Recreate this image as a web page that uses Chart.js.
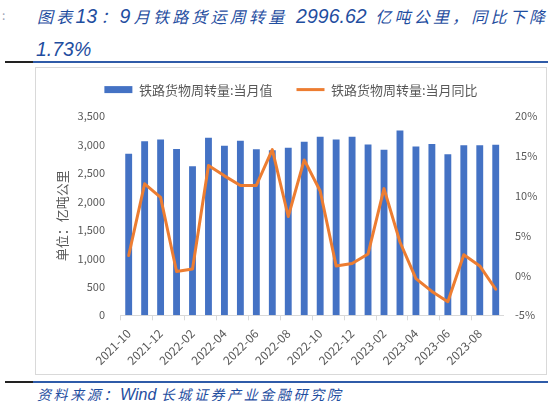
<!DOCTYPE html>
<html><head><meta charset="utf-8">
<script src="https://cdn.jsdelivr.net/npm/chart.js@4.4.1/dist/chart.umd.min.js"></script>
<style>
html,body{margin:0;padding:0;background:#fff;}
body{width:554px;height:407px;position:relative;overflow:hidden;font-family:'Noto Sans CJK SC','Noto Sans',sans-serif;}
.t{position:absolute;color:#1f4e9f;font-style:italic;}
.cn{font-family:'Noto Sans CJK SC',sans-serif;font-size:16px;}
.la{font-family:'Liberation Sans',Arial,sans-serif;font-size:19.5px;}
#t1{left:37px;top:5px;width:508px;height:22px;line-height:22px;text-align:justify;text-align-last:justify;}
#t2{left:36px;top:38px;height:22px;line-height:22px;white-space:nowrap;}
#mark{position:absolute;left:2px;top:6px;font-size:12px;color:#9aa3b5;}
.rule-d{position:absolute;left:5px;width:28px;height:2px;background:#222;}
.rule-b{position:absolute;left:33px;width:515px;height:2px;background:#2f5ba8;}
#box{position:absolute;left:35px;top:67px;width:512px;height:308px;box-sizing:border-box;border:1px solid #d9d9d9;}
#c{position:absolute;left:36px;top:68px;}
#src{position:absolute;left:37px;top:383px;height:20px;line-height:20px;white-space:nowrap;color:#1f4e9f;font-style:italic;}
#src .cn{font-size:14px;letter-spacing:2.6px;}
#src .la{font-size:16px;}
</style>
</head><body>
<div id="mark">:</div>
<div class="t" id="t1"><span class="cn">图表</span><span class="la">13</span><span class="cn">：</span><span class="la">9</span><span class="cn">月铁路货运周转量</span><span class="la"> 2996.62 </span><span class="cn">亿吨公里，同比下降</span></div>
<div class="t" id="t2"><span class="la">1.73%</span></div>
<div class="rule-d" style="top:61px"></div><div class="rule-b" style="top:61px"></div>
<div id="box"></div>
<canvas id="c" width="510" height="306"></canvas>
<div class="rule-d" style="top:381px"></div><div class="rule-b" style="top:381px"></div>
<div id="src"><span class="cn">资料来源：</span><span class="la">Wind </span><span class="cn">长城证券产业金融研究院</span></div>
<script>
const categories = ['2021-10','2021-11','2021-12','2022-01','2022-02','2022-03','2022-04','2022-05','2022-06','2022-07','2022-08','2022-09','2022-10','2022-11','2022-12','2023-01','2023-02','2023-03','2023-04','2023-05','2023-06','2023-07','2023-08','2023-09'];
const freightTurnover = [2840,3056,3091,2921,2618,3118,2978,3068,2918,2898,2946,3050,3138,3091,3138,3003,2910,3249,2968,3009,2828,2986,2986,2997];
const yoyGrowth = [2.5,11.5,9.8,0.5,0.8,13.8,12.5,11.3,11.3,15.8,7.4,14.5,10.6,1.2,1.5,2.7,10.9,4.2,-0.4,-2.0,-3.3,2.6,1.2,-1.73];
const seriesNames = ['铁路货物周转量:当月值','铁路货物周转量:当月同比'];
const leftAxis = {min:0, max:3500, step:500, title:'单位：亿吨公里'};
const rightAxis = {min:-5, max:20, step:5};

const BLUE='#4472C4', ORANGE='#ED7D31', GREY='#595959', AXIS='#d9d9d9';
const FAM="'Noto Sans CJK SC','Noto Sans',sans-serif";

new Chart(document.getElementById('c'), {
  data: {
    labels: categories,
    datasets: [
      {type:'bar', label:seriesNames[0], data:freightTurnover, backgroundColor:BLUE, borderWidth:0, yAxisID:'y', order:1, barPercentage:0.43, categoryPercentage:1},
      {type:'line', label:seriesNames[1], data:yoyGrowth, borderColor:ORANGE, backgroundColor:ORANGE, borderWidth:3, pointRadius:0, tension:0, yAxisID:'y1', order:0, borderJoinStyle:'round', borderCapStyle:'round'}
    ]
  },
  options: {
    responsive:false, animation:false,
    layout:{padding:{top:-8.9,left:0,right:0,bottom:0}},
    plugins:{
      tooltip:{enabled:false},
      title:{display:true, text:'', weight:500, padding:0, font:{size:10, lineHeight:1}},
      legend:{
        position:'top',
        labels:{
          font:{size:13, family:FAM}, color:GREY, usePointStyle:true, pointStyleWidth:28, boxHeight:7, padding:24,
          sort:(a,b)=>a.datasetIndex-b.datasetIndex,
          generateLabels:(chart)=>{
            const items = Chart.defaults.plugins.legend.labels.generateLabels(chart);
            items.forEach(it=>{
              const ds = chart.data.datasets[it.datasetIndex];
              if (ds.type==='line'){ it.pointStyle='line'; it.lineWidth=3; it.strokeStyle=ORANGE; it.fillStyle=ORANGE; }
              else { it.pointStyle='rect'; it.lineWidth=0; it.fillStyle=BLUE; it.strokeStyle=BLUE; }
            });
            return items;
          }
        }
      }
    },
    scales:{
      x:{
        offset:true,
        grid:{display:true, drawOnChartArea:false, drawTicks:true, tickLength:5, color:(ctx)=> (ctx.index%2===0 ? AXIS : 'rgba(0,0,0,0)')},
        border:{display:true, color:AXIS},
        ticks:{autoSkip:false, minRotation:45, maxRotation:45, padding:6, color:GREY, font:{size:12, family:FAM},
          callback:(v,i)=> (i%2===0 ? categories[i] : '')},
        afterFit:(s)=>{ s.height = 58.7; }
      },
      y:{
        position:'left', min:leftAxis.min, max:leftAxis.max,
        grid:{display:false, drawTicks:false}, border:{display:false},
        ticks:{stepSize:leftAxis.step, padding:15.7, color:GREY, font:{size:11, family:FAM}, callback:(v)=>Number(v).toLocaleString('en-US')},
        title:{display:true, text:leftAxis.title, color:GREY, font:{size:13, family:FAM}, padding:{top:17.9, bottom:0}},
        afterFit:(s)=>{ s.width = 84.7; }
      },
      y1:{
        position:'right', min:rightAxis.min, max:rightAxis.max,
        grid:{display:false, drawTicks:false}, border:{display:false},
        ticks:{stepSize:rightAxis.step, padding:11.3, color:GREY, font:{size:11, family:FAM}, callback:(v)=>v+'%'},
        afterFit:(s)=>{ s.width = 42.3; }
      }
    }
  }
});
</script>
</body></html>
